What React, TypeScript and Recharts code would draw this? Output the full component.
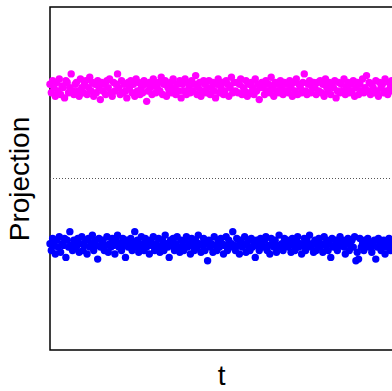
import { ScatterChart, Scatter, XAxis, YAxis, ReferenceLine, ReferenceArea } from 'recharts';

// projection of each sample onto the discriminant axis, in arbitrary units
const magentaValues = [
  55, 50, 57, 53, 48, 56, 51, 58, 49, 54, 53, 47, 57, 56, 50, 53, 61, 51, 49, 55,
  56, 51, 48, 58, 53, 50, 55, 57, 49, 53, 59, 51, 56, 48, 55, 50, 57, 53, 46, 56,
  51, 55, 49, 57, 53, 58, 50, 48, 56, 51, 55, 61, 53, 49, 57, 50, 55, 51, 47, 56,
  53, 57, 50, 55, 48, 58, 51, 56, 49, 53, 50, 57, 55, 45, 51, 56, 53, 49, 58, 55,
  50, 53, 56, 51, 59, 49, 55, 57, 48, 53, 51, 56, 50, 58, 53, 49, 55, 51, 57, 47,
  55, 51, 58, 49, 56, 53, 50, 57, 51, 55, 60, 49, 53, 56, 48, 51, 57, 55, 50, 53,
  57, 49, 53, 56, 51, 47, 55, 58, 50, 53, 56, 49, 51, 57, 55, 48, 53, 59, 50, 56,
  51, 56, 50, 55, 58, 49, 53, 51, 57, 48, 55, 50, 56, 53, 49, 58, 51, 55, 46, 53,
  56, 53, 49, 57, 51, 55, 50, 59, 53, 48, 56, 51, 55, 50, 57, 53, 49, 56, 51, 55,
  50, 57, 53, 48, 56, 51, 58, 49, 55, 53, 50, 56, 61, 51, 49, 55, 57, 50, 53, 56,
  53, 49, 56, 51, 57, 50, 55, 48, 58, 53, 51, 56, 49, 55, 53, 57, 47, 51, 56, 50,
  55, 51, 58, 49, 53, 56, 50, 55, 51, 57, 48, 53, 56, 49, 55, 51, 58, 50, 53, 60,
  51, 56, 49, 55, 53, 50, 57, 51, 48, 56, 53, 55, 50, 58, 51, 49, 56, 53, 57, 51,
];

const blueValues = [
  -38, -42, -35, -39, -44, -36, -40, -34, -43, -38, -39, -35, -46, -36, -40, -31, -39, -42, -36, -38,
  -40, -35, -43, -38, -34, -42, -39, -36, -44, -35, -40, -38, -33, -42, -36, -39, -47, -35, -40, -38,
  -36, -42, -39, -34, -43, -38, -40, -35, -39, -44, -36, -33, -40, -38, -42, -35, -39, -46, -36, -40,
  -39, -35, -42, -38, -31, -40, -36, -43, -39, -34, -38, -42, -35, -40, -38, -44, -36, -39, -34, -42,
  -38, -40, -35, -43, -39, -36, -42, -33, -38, -40, -46, -36, -39, -35, -42, -38, -34, -40, -43, -36,
  -39, -42, -36, -34, -40, -38, -44, -35, -39, -42, -36, -40, -33, -38, -43, -39, -35, -42, -38, -48,
  -36, -40, -38, -43, -34, -39, -42, -36, -40, -35, -38, -44, -39, -34, -42, -36, -40, -38, -31, -39,
  -42, -35, -39, -44, -36, -40, -38, -34, -43, -39, -36, -42, -35, -40, -38, -46, -36, -39, -42, -35,
  -38, -40, -36, -34, -42, -39, -44, -35, -38, -40, -36, -43, -39, -33, -40, -38, -42, -35, -39, -36,
  -40, -38, -43, -35, -39, -42, -36, -34, -40, -38, -44, -39, -35, -42, -36, -39, -33, -40, -38, -43,
  -36, -42, -39, -35, -40, -38, -43, -34, -39, -36, -42, -38, -46, -35, -40, -39, -36, -42, -38, -34,
  -39, -36, -40, -44, -38, -35, -42, -39, -36, -40, -34, -48, -43, -47, -35, -40, -38, -42, -36, -39,
  -35, -40, -38, -43, -39, -36, -47, -40, -35, -38, -42, -39, -36, -44, -40, -38, -35, -42, -39, -38,
];

const yDomain = [-100, 100];

const magentaData = magentaValues.map((v, i) => ({ t: i, p: v }));
const blueData = blueValues.map((v, i) => ({ t: i, p: v }));
const lastT = magentaValues.length - 1;

const dot = (color: string) => (props: any) => (
  <circle cx={props.cx} cy={props.cy} r={3.7} fill={color} />
);

export default function App() {
  return (
    <div style={{ position: 'absolute', left: 0, top: 0, width: 392, height: 391, overflow: 'hidden', background: '#fff' }}>
      <ScatterChart width={400} height={391} margin={{ top: 7, right: 7, bottom: 41, left: 50 }}>
        <XAxis type="number" dataKey="t" domain={[0, lastT]} hide />
        <YAxis type="number" dataKey="p" domain={yDomain} hide />
        <ReferenceLine y={0} stroke="#555" strokeDasharray="1 2" />
        <Scatter data={magentaData} fill="#ff00ff" shape={dot('#ff00ff')} isAnimationActive={false} />
        <Scatter data={blueData} fill="#0000ff" shape={dot('#0000ff')} isAnimationActive={false} />
        <ReferenceArea x1={0} x2={lastT} y1={yDomain[0]} y2={yDomain[1]} fill="none" stroke="#000" strokeWidth={1.5} />
      </ScatterChart>
      <svg width={392} height={391} style={{ position: 'absolute', left: 0, top: 0, pointerEvents: 'none' }}>
        <g fontFamily="Liberation Sans, Arial, sans-serif" fontSize={28} fill="#000">
          <text x={221.7} y={385} textAnchor="middle">t</text>
          <text x={29} y={179} textAnchor="middle" transform="rotate(-90, 29, 179)">Projection</text>
        </g>
      </svg>
    </div>
  );
}
